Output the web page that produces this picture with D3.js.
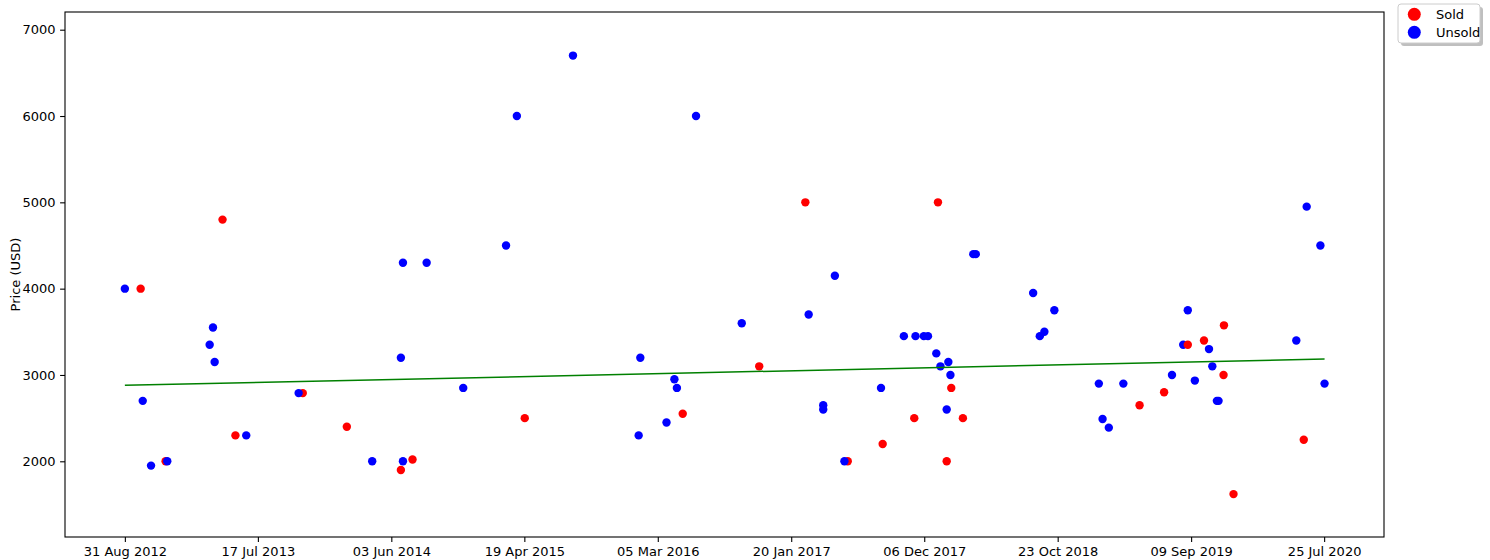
<!DOCTYPE html>
<html>
<head>
<meta charset="utf-8">
<script src="https://cdn.jsdelivr.net/npm/d3@7"></script>
<style>
  body { margin: 0; background: #fff; }
  svg { display: block; font-family: "DejaVu Sans", sans-serif; }
</style>
</head>
<body>
<div id="chart"></div>
<script>
// listing data (date, asking price, sold flag)
const listingDates = [
    "2012-08-31", "2012-10-08", "2012-10-13", "2012-11-02", "2012-12-07", "2012-12-11",
    "2013-03-23", "2013-03-31", "2013-04-04", "2013-04-23", "2013-05-24", "2013-06-19",
    "2013-11-02", "2013-10-23", "2014-02-16", "2014-04-18", "2014-06-26", "2014-06-26",
    "2014-07-01", "2014-07-01", "2014-07-24", "2014-08-27", "2014-11-23", "2015-03-06",
    "2015-04-01", "2015-04-20", "2015-08-14", "2016-01-19", "2016-01-23", "2016-03-26",
    "2016-04-14", "2016-04-20", "2016-05-04", "2016-06-05", "2016-09-23", "2016-11-04",
    "2017-02-23", "2017-03-03", "2017-04-07", "2017-04-07", "2017-05-05", "2017-06-05",
    "2017-05-28", "2017-08-24", "2017-08-28", "2017-10-18", "2017-11-12", "2017-11-15",
    "2017-12-05", "2017-12-15", "2018-01-04", "2018-01-08", "2018-01-14", "2018-01-29",
    "2018-01-29", "2018-02-02", "2018-02-07", "2018-02-09", "2018-03-09", "2018-04-03",
    "2018-04-09", "2018-08-25", "2018-09-10", "2018-09-21", "2018-10-15", "2019-01-30",
    "2019-02-08", "2019-02-23", "2019-03-30", "2019-05-08", "2019-07-06", "2019-07-25",
    "2019-08-21", "2019-09-01", "2019-09-01", "2019-09-18", "2019-10-10", "2019-10-22",
    "2019-10-30", "2019-11-10", "2019-11-14", "2019-11-26", "2019-11-27", "2019-12-20",
    "2020-05-19", "2020-06-06", "2020-06-13", "2020-07-16", "2020-07-26"
];
const listingPrices = [
    4000, 4000, 2700, 1950, 2000, 2000,
    3350, 3550, 3150, 4800, 2300, 2300,
    2790, 2790, 2400, 2000, 3200, 1900,
    4300, 2000, 2020, 4300, 2850, 4500,
    6000, 2500, 6700, 2300, 3200, 2450,
    2950, 2850, 2550, 6000, 3600, 3100,
    5000, 3700, 2650, 2600, 4150, 2000,
    2000, 2850, 2200, 3450, 2500, 3450,
    3450, 3450, 3250, 5000, 3100, 2600,
    2000, 3150, 3000, 2850, 2500, 4400,
    4400, 3950, 3450, 3500, 3750, 2900,
    2490, 2390, 2900, 2650, 2800, 3000,
    3350, 3350, 3750, 2935, 3400, 3300,
    3100, 2700, 2700, 3000, 3575, 1620,
    3400, 2250, 4950, 4500, 2900
];
const listingSold = [
    0, 1, 0, 0, 1, 0,
    0, 0, 0, 1, 1, 0,
    1, 0, 1, 0, 0, 1,
    0, 0, 1, 0, 0, 0,
    0, 1, 0, 0, 0, 0,
    0, 0, 1, 0, 0, 1,
    1, 0, 0, 0, 0, 1,
    0, 0, 1, 0, 1, 0,
    0, 0, 0, 1, 0, 0,
    1, 0, 0, 1, 1, 0,
    0, 0, 0, 0, 0, 0,
    0, 0, 0, 1, 1, 0,
    0, 1, 0, 0, 1, 0,
    0, 0, 0, 1, 1, 1,
    0, 1, 0, 0, 0
];

// trend line end points
const trendDates = ["2012-08-31", "2020-07-26"];
const trendPrices = [2880, 3184];

const xTickDates = [
    "2012-08-31", "2013-07-17", "2014-06-03", "2015-04-19", "2016-03-05",
    "2017-01-20", "2017-12-06", "2018-10-23", "2019-09-09", "2020-07-25"
];
const yTicks = [2000, 3000, 4000, 5000, 6000, 7000];

const legendLabels = ["Sold", "Unsold"];
const legendColors = ["#ff0000", "#0000ff"];

const parseDate = d3.utcParse("%Y-%m-%d");
const width = 1490, height = 560;
const plot = {left: 65, right: 1384, top: 12, bottom: 537};

const points = listingDates.map((d, i) => ({
    date: parseDate(d),
    price: listingPrices[i],
    sold: listingSold[i] === 1
}));

const svg = d3.select("#chart")
    .append("svg")
    .attr("width", width)
    .attr("height", height);

const x = d3.scaleUtc()
    .domain([parseDate("2012-04-09"), parseDate("2020-12-16")])
    .range([plot.left, plot.right]);

const y = d3.scaleLinear()
    .domain([1123, 7205])
    .range([plot.bottom, plot.top]);

// points
svg.append("g")
    .selectAll("circle")
    .data(points)
    .join("circle")
    .attr("cx", d => x(d.date))
    .attr("cy", d => y(d.price))
    .attr("r", 4.2)
    .attr("fill", d => d.sold ? legendColors[0] : legendColors[1]);

// trend line
const trend = trendDates.map((d, i) => ({date: parseDate(d), price: trendPrices[i]}));
svg.append("path")
    .datum(trend)
    .attr("fill", "none")
    .attr("stroke", "#008000")
    .attr("stroke-width", 1.5)
    .attr("d", d3.line().x(d => x(d.date)).y(d => y(d.price)));

// axes
const fmt = d3.utcFormat("%d %b %Y");
const xAxis = svg.append("g")
    .attr("transform", `translate(0,${plot.bottom})`)
    .call(d3.axisBottom(x)
        .tickValues(xTickDates.map(parseDate))
        .tickFormat(fmt)
        .tickSize(4.9)
        .tickPadding(4.5));

const yAxis = svg.append("g")
    .attr("transform", `translate(${plot.left},0)`)
    .call(d3.axisLeft(y)
        .tickValues(yTicks)
        .tickFormat(d3.format("d"))
        .tickSize(4.9)
        .tickPadding(4.5));

[xAxis, yAxis].forEach(g => {
    g.select(".domain").remove();
    g.selectAll(".tick line").attr("stroke", "#000").attr("stroke-width", 1.1);
    g.selectAll(".tick text")
        .attr("fill", "#000")
        .style("font-family", "DejaVu Sans")
        .style("font-size", "13px");
});

// frame
svg.append("rect")
    .attr("x", plot.left)
    .attr("y", plot.top)
    .attr("width", plot.right - plot.left)
    .attr("height", plot.bottom - plot.top)
    .attr("fill", "none")
    .attr("stroke", "#000")
    .attr("stroke-width", 1.1);

// y label
svg.append("text")
    .attr("transform", `translate(20,${(plot.top + plot.bottom) / 2}) rotate(-90)`)
    .attr("text-anchor", "middle")
    .style("font-size", "13px")
    .attr("fill", "#000")
    .text("Price (USD)");

// legend
const legend = svg.append("g").attr("transform", "translate(1398,4)");
legend.append("rect")
    .attr("x", 3).attr("y", 3)
    .attr("width", 82).attr("height", 39)
    .attr("rx", 3)
    .attr("fill", "#7f7f7f")
    .attr("opacity", 0.5);
legend.append("rect")
    .attr("width", 82).attr("height", 39)
    .attr("rx", 3)
    .attr("fill", "#fff")
    .attr("stroke", "#cccccc")
    .attr("stroke-width", 1);

const legendItems = legend.selectAll("g.item")
    .data(legendLabels)
    .join("g")
    .attr("class", "item")
    .attr("transform", (d, i) => `translate(0,${10.3 + i * 18})`);

legendItems.append("circle")
    .attr("cx", 16.3)
    .attr("r", 6.5)
    .attr("fill", (d, i) => legendColors[i]);

legendItems.append("text")
    .attr("x", 38)
    .attr("dy", "0.35em")
    .style("font-size", "13px")
    .attr("fill", "#000")
    .text(d => d);
</script>
</body>
</html>
